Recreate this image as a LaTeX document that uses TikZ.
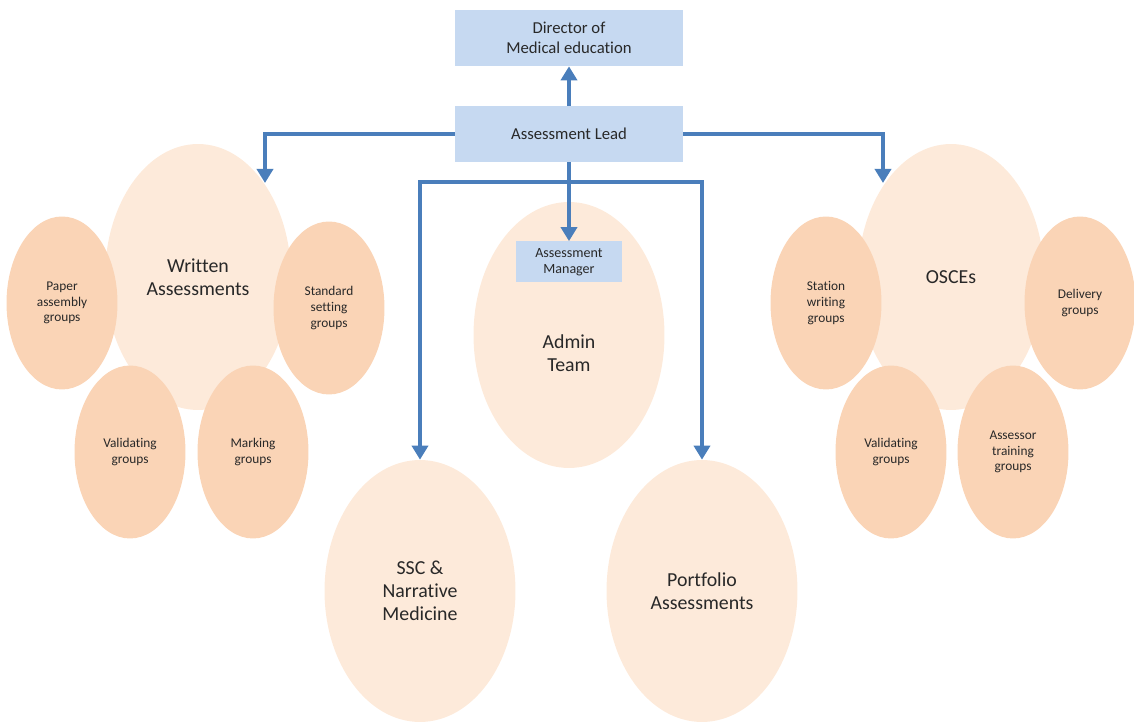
\documentclass[tikz,border=0pt]{standalone}
\usepackage{fontspec}
\setmainfont{Carlito}[Ligatures=NoCommon]
\usepackage{xcolor}
\usetikzlibrary{arrows.meta,positioning,shapes.geometric}
\definecolor{myblue}{RGB}{74,126,187}
\definecolor{boxblue}{RGB}{198,217,241}
\definecolor{palepeach}{RGB}{253,234,218}
\definecolor{peach}{RGB}{250,212,182}
\definecolor{mytext}{RGB}{40,40,40}

\begin{document}
\begin{tikzpicture}[
  x=0.02cm, y=-0.02cm,
  every node/.style={align=center, text=mytext},
  rolebox/.style={fill=boxblue, inner sep=0pt, minimum width=4.56cm, minimum height=1.12cm, font=\fontsize{9.5}{11.5}\selectfont},
  team/.style={ellipse, fill=palepeach, inner sep=0pt, minimum width=3.72cm, minimum height=5.32cm, font=\fontsize{11.3}{13.2}\selectfont},
  subgroup/.style={ellipse, fill=peach, inner sep=0pt, minimum width=2.22cm, minimum height=3.46cm, font=\fontsize{7.6}{9}\selectfont},
  arr/.style={-{Triangle[length=2.8mm, width=3.2mm]}, line width=2.6pt, myblue}
]
\useasboundingbox (0,0) rectangle (1134,722);

% top of the chain
\node[rolebox] (director) at (569,38) {Director of\\Medical education};
\node[rolebox] (lead) at (569,134) {Assessment Lead};

% main teams
\node[team] (written) at (198,277) {Written\\Assessments};
\node[team] (osce) at (951,277) {OSCEs};
\node[team, minimum width=3.82cm] (admin) at (569,335) {};
\node[font=\fontsize{11.3}{13.2}\selectfont] (admintext) at (569,353) {Admin\\Team};
\node[team, minimum width=3.82cm, minimum height=5.24cm] (ssc) at (420,591) {SSC \&\\Narrative\\Medicine};
\node[team, minimum width=3.82cm, minimum height=5.24cm] (portfolio) at (702,591) {Portfolio\\Assessments};

% written assessment groups
\node[subgroup] (paper) at (62,303) {Paper\\assembly\\groups};
\node[subgroup] (standard) at (329,308) {Standard\\setting\\groups};
\node[subgroup] (wvalid) at (130,452) {Validating\\groups};
\node[subgroup] (marking) at (253,452) {Marking\\groups};

% osce groups
\node[subgroup] (station) at (826,303) {Station\\writing\\groups};
\node[subgroup] (delivery) at (1080,303) {Delivery\\groups};
\node[subgroup] (ovalid) at (891,452) {Validating\\groups};
\node[subgroup] (assessor) at (1013,452) {Assessor\\training\\groups};

\node[rolebox, minimum width=2.12cm, minimum height=0.82cm, font=\fontsize{8}{9.4}\selectfont] (manager) at (569,262) {Assessment\\Manager};

% connectors
\coordinate (split) at (569,182);
\draw[arr] (lead) -- (director);
\draw[arr] (lead.west) -| (265,183);
\draw[arr] (lead.east) -| (883,183);
\draw[arr] (lead) -- (manager);
\draw[arr] (split) -| (ssc.north);
\draw[arr] (split) -| (portfolio.north);
\end{tikzpicture}
\end{document}
